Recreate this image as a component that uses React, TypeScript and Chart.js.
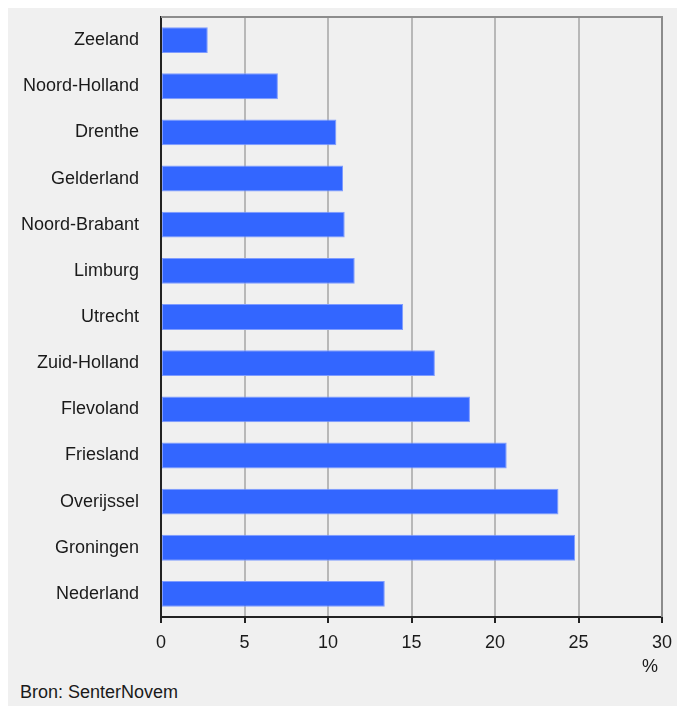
import React, { useEffect, useRef } from "react";
import { Chart, registerables } from "chart.js";

Chart.register(...registerables);

const provinces = [
  "Zeeland",
  "Noord-Holland",
  "Drenthe",
  "Gelderland",
  "Noord-Brabant",
  "Limburg",
  "Utrecht",
  "Zuid-Holland",
  "Flevoland",
  "Friesland",
  "Overijssel",
  "Groningen",
  "Nederland",
];

const shares = [2.8, 7.0, 10.5, 10.9, 11.0, 11.6, 14.5, 16.4, 18.5, 20.7, 23.8, 24.8, 13.4];

const xMin = 0;
const xMax = 30;
const xStep = 5;
const unitLabel = "%";
const sourceLabel = "Bron: SenterNovem";

const FONT = "'Liberation Sans', Arial, sans-serif";
const TEXT = "#1a1a1a";

const CANVAS_W = 669;
const CANVAS_H = 660;

const framePlugin = {
  id: "frameTopRight",
  afterDatasetsDraw(chart: any) {
    const { ctx, chartArea } = chart;
    ctx.save();
    ctx.strokeStyle = "#8c8c8c";
    ctx.lineWidth = 2;
    ctx.beginPath();
    ctx.moveTo(chartArea.left, chartArea.top);
    ctx.lineTo(chartArea.right, chartArea.top);
    ctx.lineTo(chartArea.right, chartArea.bottom);
    ctx.stroke();
    ctx.restore();
  },
};

export default function App() {
  const canvasRef = useRef<HTMLCanvasElement | null>(null);

  useEffect(() => {
    const prevMargin = document.body.style.marginRight;
    document.body.style.marginRight = "0px";
    return () => {
      document.body.style.marginRight = prevMargin;
    };
  }, []);

  useEffect(() => {
    if (!canvasRef.current) return;
    const chart = new Chart(canvasRef.current, {
      type: "bar",
      data: {
        labels: provinces,
        datasets: [
          {
            data: shares,
            backgroundColor: "#3366ff",
            borderColor: "#7f9cff",
            borderWidth: 1,
            borderSkipped: false,
            barPercentage: 0.56,
            categoryPercentage: 1,
          },
        ],
      },
      options: {
        indexAxis: "y",
        animation: false,
        responsive: false,
        layout: { padding: { top: 9, right: 15, left: 0, bottom: 0 } },
        plugins: {
          legend: { display: false },
          tooltip: { enabled: false },
          title: { display: false },
        },
        scales: {
          x: {
            type: "linear",
            min: xMin,
            max: xMax,
            ticks: {
              stepSize: xStep,
              color: TEXT,
              padding: 9,
              font: { family: FONT, size: 18 },
            },
            grid: {
              color: "#b8b8b8",
              lineWidth: 2,
              drawTicks: true,
              tickLength: 6,
              tickColor: "#222222",
              tickWidth: 2,
            },
            border: { display: true, color: "#222222", width: 2 },
            afterFit: (scale: any) => {
              scale.height = 51;
              scale.paddingLeft = 0;
              scale.paddingRight = 0;
            },
          },
          y: {
            type: "category",
            ticks: {
              color: TEXT,
              padding: 22,
              font: { family: FONT, size: 18 },
            },
            grid: { display: false, drawTicks: false },
            border: { display: true, color: "#222222", width: 2 },
            afterFit: (scale: any) => {
              scale.width = 153;
              scale.paddingTop = 0;
              scale.paddingBottom = 0;
            },
          },
        },
      },
      plugins: [framePlugin],
    });
    return () => chart.destroy();
  }, []);

  return (
    <div
      style={{
        position: "relative",
        width: 669,
        height: 698,
        background: "#f0f0f0",
        fontFamily: FONT,
        color: TEXT,
      }}
    >
      <canvas
        ref={canvasRef}
        width={CANVAS_W}
        height={CANVAS_H}
        style={{ position: "absolute", left: 0, top: 0, width: CANVAS_W, height: CANVAS_H }}
      />
      <div
        style={{
          position: "absolute",
          left: 634,
          top: 647,
          width: 14,
          textAlign: "center",
          fontSize: 18,
          lineHeight: "22px",
        }}
      >
        {unitLabel}
      </div>
      <div
        style={{
          position: "absolute",
          left: 12,
          top: 673,
          fontSize: 18,
          lineHeight: "22px",
          whiteSpace: "nowrap",
        }}
      >
        {sourceLabel}
      </div>
    </div>
  );
}
